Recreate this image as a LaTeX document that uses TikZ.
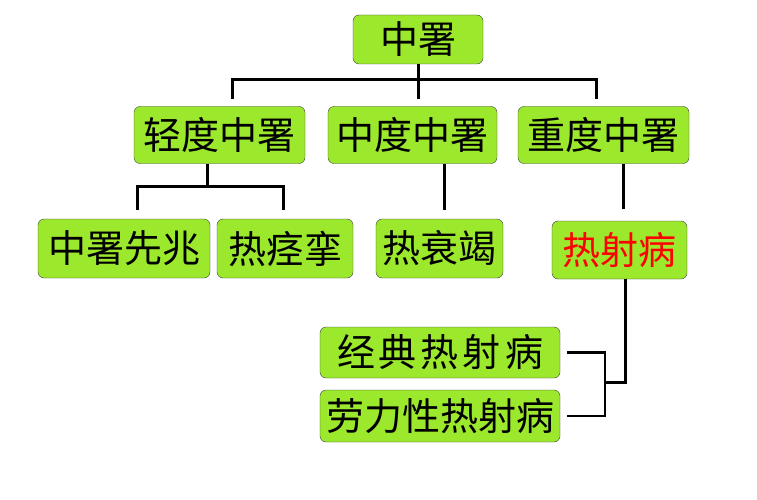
\documentclass[tikz,border=0pt]{standalone}
\usepackage{fontspec}
\newfontfamily\cjk{Noto Sans CJK SC}
\definecolor{boxgreen}{RGB}{155,232,45}
\tikzset{
  box/.style={draw=black!75, fill=boxgreen, rounded corners=6pt, inner sep=0pt,
    font=\cjk\fontsize{38}{42}\selectfont},
  link/.style={line width=3pt},
  thinlink/.style={line width=2.2pt},
}
\begin{document}
\begin{tikzpicture}[x=1pt,y=-1pt]
  \useasboundingbox (0,0) rectangle (757,500);
  % top
  \node (root) at (418,39.5) [box, minimum width=130, minimum height=49] {中署};
  % second row
  \foreach \name/\x/\w/\txt in {light/219.5/171/轻度中署, mid/412.5/169/中度中署, heavy/603.5/171/重度中署} {
    \node (\name) at (\x,135) [box, minimum width=\w, minimum height=57] {\txt};
  }
  % third row
  \foreach \name/\x/\w/\txt in {xianzhao/124/172/中署先兆, jingluan/285/136/热痉挛, shuaijie/439.5/127/热衰竭} {
    \node (\name) at (\x,248.5) [box, minimum width=\w, minimum height=59] {\txt};
  }
  \node (reshe) at (619.5,250) [box, minimum width=135, minimum height=58, text=red] {热射病};
  % bottom
  \node (jingdian) at (440,352.5) [box, minimum width=240, minimum height=51] {经\hspace{4pt}典\hspace{4pt}热\hspace{4pt}射\hspace{4pt}病};
  \node (laoli) at (440,416) [box, minimum width=240, minimum height=52] {劳力性热射病};

  % links
  \coordinate (bus) at (418,80);
  \coordinate (dropL) at (232,99);
  \coordinate (dropR) at (596,99);
  \draw[link] (root.south) -- (root.south |- dropL);
  \draw[link] (dropL) -- (dropL |- bus) -- (dropR |- bus) -- (dropR);
  \coordinate (lbus) at (207,186);
  \coordinate (lL) at (137,210);
  \coordinate (lR) at (283,210);
  \draw[link] (lbus |- light.south) -- (lbus);
  \draw[link] (lL) -- (lL |- lbus) -- (lR |- lbus) -- (lR);
  \coordinate (mdrop) at (444,210);
  \draw[link] (mdrop |- mid.south) -- (mdrop);
  \coordinate (hdrop) at (623,209);
  \draw[link] (hdrop |- heavy.south) -- (hdrop);
  \coordinate (rs) at (625,382);
  \coordinate (br) at (605,382);
  \draw[link] (rs |- reshe.south) -- (rs) -- (br);
  \draw[thinlink] ([xshift=7]jingdian.east) -| (br) |- ([xshift=7]laoli.east);
\end{tikzpicture}
\end{document}
